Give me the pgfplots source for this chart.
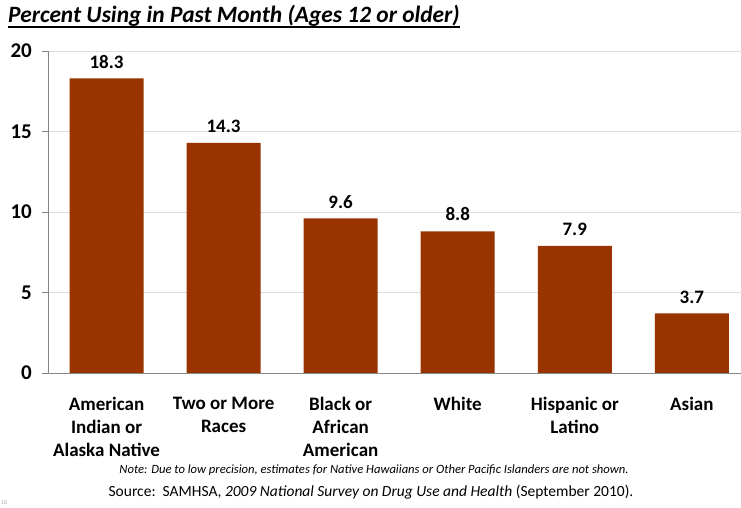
\documentclass[border=0pt]{standalone}
\usepackage{fontspec}
\setmainfont{Carlito}
\usepackage{pgfplots}
\pgfplotsset{compat=1.18}
\definecolor{barc}{RGB}{153,51,0}
\definecolor{axc}{RGB}{134,134,134}
\definecolor{gridc}{RGB}{222,222,222}
\begin{document}
\begin{tikzpicture}[x=1pt,y=1pt]
\useasboundingbox (0,0) rectangle (741,508);
\begin{axis}[
  at={(48pt,135pt)}, anchor=south west,
  scale only axis, width=693pt, height=322pt,
  xmin=-0.5, xmax=5.42, ymin=0, ymax=20,
  axis x line=bottom, axis y line=left,
  axis line style={-, draw=axc, line width=0.8pt},
  xtick=data,
  xticklabels={American\\Indian or\\Alaska Native, Two or More\\Races, Black or\\African\\American, White, Hispanic or\\Latino, Asian},
  x tick label style={align=center, anchor=north, inner sep=0pt, yshift=-18pt, font=\fontsize{19}{23}\selectfont\bfseries},
  ytick={0,5,10,15,20},
  y tick label style={font=\fontsize{21}{25}\selectfont\bfseries, inner sep=0pt, anchor=east, xshift=-10pt, /pgf/number format/assume math mode=true},
  major tick length=6pt,
  xtick style={draw=none},
  ytick style={draw=axc, line width=0.8pt},
  tick align=outside,
  ymajorgrids, grid style={gridc, line width=0.6pt},
  ybar, bar width=0.632,
  nodes near coords,
  every node near coord/.append style={font=\fontsize{19}{23}\selectfont\bfseries, inner sep=0pt, yshift=10pt, text=black, /pgf/number format/assume math mode=true},
]
\addplot[fill=barc, draw=none] coordinates {(0,18.3) (1,14.3) (2,9.6) (3,8.8) (4,7.9) (5,3.7)};
\end{axis}
\node[anchor=base west, inner sep=0pt] (t) at (8,485) {\fontsize{23.4}{28}\selectfont\bfseries\itshape Percent Using in Past Month (Ages 12 or older)};
\draw[line width=1.4pt] ([yshift=-4pt]t.base west) -- ([yshift=-4pt]t.base east);
\node[anchor=base, inner sep=0pt] at (374,34) {\fontsize{12.6}{15}\selectfont\itshape Note: Due to low precision, estimates for Native Hawaiians or Other Pacific Islanders are not shown.};
\node[anchor=base, inner sep=0pt] at (371,11) {\fontsize{15.5}{18}\selectfont Source:\ \ SAMHSA, \textit{2009 National Survey on Drug Use and Health} (September 2010).};
\node[anchor=base west, inner sep=0pt, text=black!35] at (1,3) {\fontsize{6}{7}\selectfont 10};
\end{tikzpicture}
\end{document}
